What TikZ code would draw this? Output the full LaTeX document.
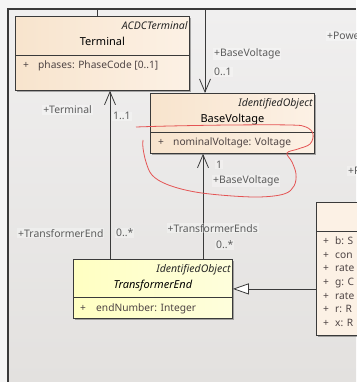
\documentclass[tikz,border=0pt]{standalone}
\usepackage{fontspec}
\setmainfont{Noto Sans}
\usepackage{tikz}
\usetikzlibrary{arrows.meta}
\usetikzlibrary{shadows}
\usetikzlibrary{positioning}

\definecolor{canvas}{HTML}{F0EFEF}
\definecolor{canvasbot}{HTML}{E3E1DF}
\definecolor{peachL}{HTML}{F8E4CD}
\definecolor{peachR}{HTML}{FCF1E5}
\definecolor{lemonL}{HTML}{FFFFC2}
\definecolor{lemonR}{HTML}{FEFEDC}
\definecolor{edgegray}{HTML}{3A3A3A}
\definecolor{labelgray}{HTML}{5C5C5C}
\definecolor{attrgray}{HTML}{4E4444}
\definecolor{pen}{HTML}{E45454}

\tikzset{
  klass/.style={draw=edgegray, line width=0.8pt, rectangle, inner sep=0pt, anchor=north west,
    drop shadow={shadow xshift=2pt, shadow yshift=-2pt, fill=black, opacity=0.3}},
  cim/.style={klass, left color=peachL, right color=peachR},
  lemon/.style={klass, left color=lemonL, right color=lemonR},
  sep/.style={draw=edgegray, line width=0.8pt},
  stereo/.style={anchor=base east, inner sep=0pt, font=\fontsize{10.5}{12}\selectfont\itshape, text=black!85},
  cname/.style={anchor=base, inner sep=0pt, font=\fontsize{11}{13}\selectfont\bfseries},
  attr/.style={anchor=base west, inner sep=0pt, font=\fontsize{10.2}{12}\selectfont, text=attrgray},
  role/.style={inner sep=1pt, font=\fontsize{10.4}{12}\selectfont, text=labelgray,
    fill=white, fill opacity=0.3, text opacity=1},
  assoc/.style={draw=edgegray, line width=0.8pt, -{Straight Barb[length=13pt,width=11pt]}},
  gen/.style={draw=edgegray, line width=0.8pt, -{Triangle[length=16pt,width=11pt,fill=white]}},
}

\begin{document}
\begin{tikzpicture}[x=1pt,y=1pt]
  \useasboundingbox (0,0) rectangle (356,-382);
  % canvas and frame
  \fill[black!4] (0,0) rectangle (356,-382);
  \fill[top color=canvas, bottom color=canvasbot] (8,-9) rectangle (356,-382);
  \draw[edgegray, line width=1.6pt] (8,-382) -- (8,-9) -- (356,-9);
  \coordinate (acdcIn) at (97,-9);
  \coordinate (bvIn) at (205,-9);

  % classes
  \node[cim, minimum width=174, minimum height=74] (term) at (15,-16) {};
  \draw[sep] ([yshift=-39]term.north west) -- ([yshift=-39]term.north east);
  \node[stereo] at ([shift={(-2,-13.5)}]term.north east) {ACDCTerminal};
  \node[cname] at ([yshift=-30]term.north) {Terminal};
  \node[attr] at ([shift={(8,-53)}]term.north west) {+};
  \node[attr] at ([shift={(23,-53)}]term.north west) {phases: PhaseCode [0..1]};

  \node[cim, minimum width=164, minimum height=60] (bv) at (150,-93) {};
  \draw[sep] ([yshift=-39]bv.north west) -- ([yshift=-39]bv.north east);
  \node[stereo] at ([shift={(-2,-14)}]bv.north east) {IdentifiedObject};
  \node[cname] at ([yshift=-30]bv.north) {BaseVoltage};
  \node[attr] at ([shift={(8,-53)}]bv.north west) {+};
  \node[attr] at ([shift={(23,-53)}]bv.north west) {nominalVoltage: Voltage};

  \node[lemon, minimum width=159, minimum height=59] (te) at (73,-259) {};
  \draw[sep] ([yshift=-38]te.north west) -- ([yshift=-38]te.north east);
  \node[stereo] at ([shift={(-2,-13.5)}]te.north east) {IdentifiedObject};
  \node[cname, font=\fontsize{11}{13}\selectfont\bfseries\itshape] at ([yshift=-29.7]te.north) {TransformerEnd};
  \node[attr] at ([shift={(7,-52)}]te.north west) {+};
  \node[attr] at ([shift={(23,-52)}]te.north west) {endNumber: Integer};

  \node[cim, left color=peachR, minimum width=80, minimum height=133] (pte) at (316,-202) {};
  \draw[sep] ([yshift=-29]pte.north west) -- ([yshift=-29]pte.north east);
  \node[attr] at ([shift={(7,-42.5)}]pte.north west) {+};
  \node[attr] at ([shift={(19,-42.5)}]pte.north west) {b: S};
  \node[attr] at ([shift={(7,-56)}]pte.north west) {+};
  \node[attr] at ([shift={(19,-56)}]pte.north west) {con};
  \node[attr] at ([shift={(7,-69.5)}]pte.north west) {+};
  \node[attr] at ([shift={(19,-69.5)}]pte.north west) {rate};
  \node[attr] at ([shift={(7,-83)}]pte.north west) {+};
  \node[attr] at ([shift={(19,-83)}]pte.north west) {g: C};
  \node[attr] at ([shift={(7,-97)}]pte.north west) {+};
  \node[attr] at ([shift={(19,-97)}]pte.north west) {rate};
  \node[attr] at ([shift={(7,-110.5)}]pte.north west) {+};
  \node[attr] at ([shift={(19,-110.5)}]pte.north west) {r: R};
  \node[attr] at ([shift={(7,-124)}]pte.north west) {+};
  \node[attr] at ([shift={(19,-124)}]pte.north west) {x: R};

  % connectors
  \draw[sep] (acdcIn) -- (acdcIn |- term.north);
  \draw[assoc] (bvIn) -- (bvIn |- bv.north);
  \draw[assoc] ([xshift=37]te.north west) -- ([xshift=37]te.north west |- term.south);
  \draw[assoc] ([xshift=130]te.north west) -- ([xshift=130]te.north west |- bv.south);
  \draw[gen] (pte.west |- te.east) -- (te.east);

  % role names and multiplicities
  \node[role, anchor=base east] (rTerm) at (93,-114) {+Terminal};
  \node[role, anchor=base west] (mTerm) at (112,-120) {1..1};
  \node[role, anchor=base west] (rTe) at (17,-237) {+TransformerEnd};
  \node[role, anchor=base west] (mTe) at (115,-236.5) {0..*};
  \node[role, anchor=base west] (rBvTop) at (213,-57) {+BaseVoltage};
  \node[role, anchor=base west] (mBvTop) at (213,-75.5) {0..1};
  \node[role, anchor=base west] (mBv) at (215,-168) {1};
  \node[role, anchor=base west] (rBv) at (212,-183.5) {+BaseVoltage};
  \node[role, anchor=base east] (rTes) at (259,-232) {+TransformerEnds};
  \node[role, anchor=base west] (mTes) at (215,-248.5) {0..*};
  \node[role, anchor=base west] (rPte) at (326,-39.5) {+Powe};
  \node[role, anchor=base west] (rPteB) at (347,-174.5) {+P};

  % red pen mark
  \draw[pen, line width=0.8pt] plot[smooth, tension=0.6] coordinates {
    (136,-127) (170,-126) (230,-125) (290,-125) (306,-127) (313,-134) (310,-144)
    (298,-149) (287,-153) (292,-162) (296,-174) (294,-186) (284,-194) (258,-197)
    (220,-195) (190,-191) (166,-184) (152,-175) (146,-162) (143,-148) (143,-140)};
\end{tikzpicture}
\end{document}
